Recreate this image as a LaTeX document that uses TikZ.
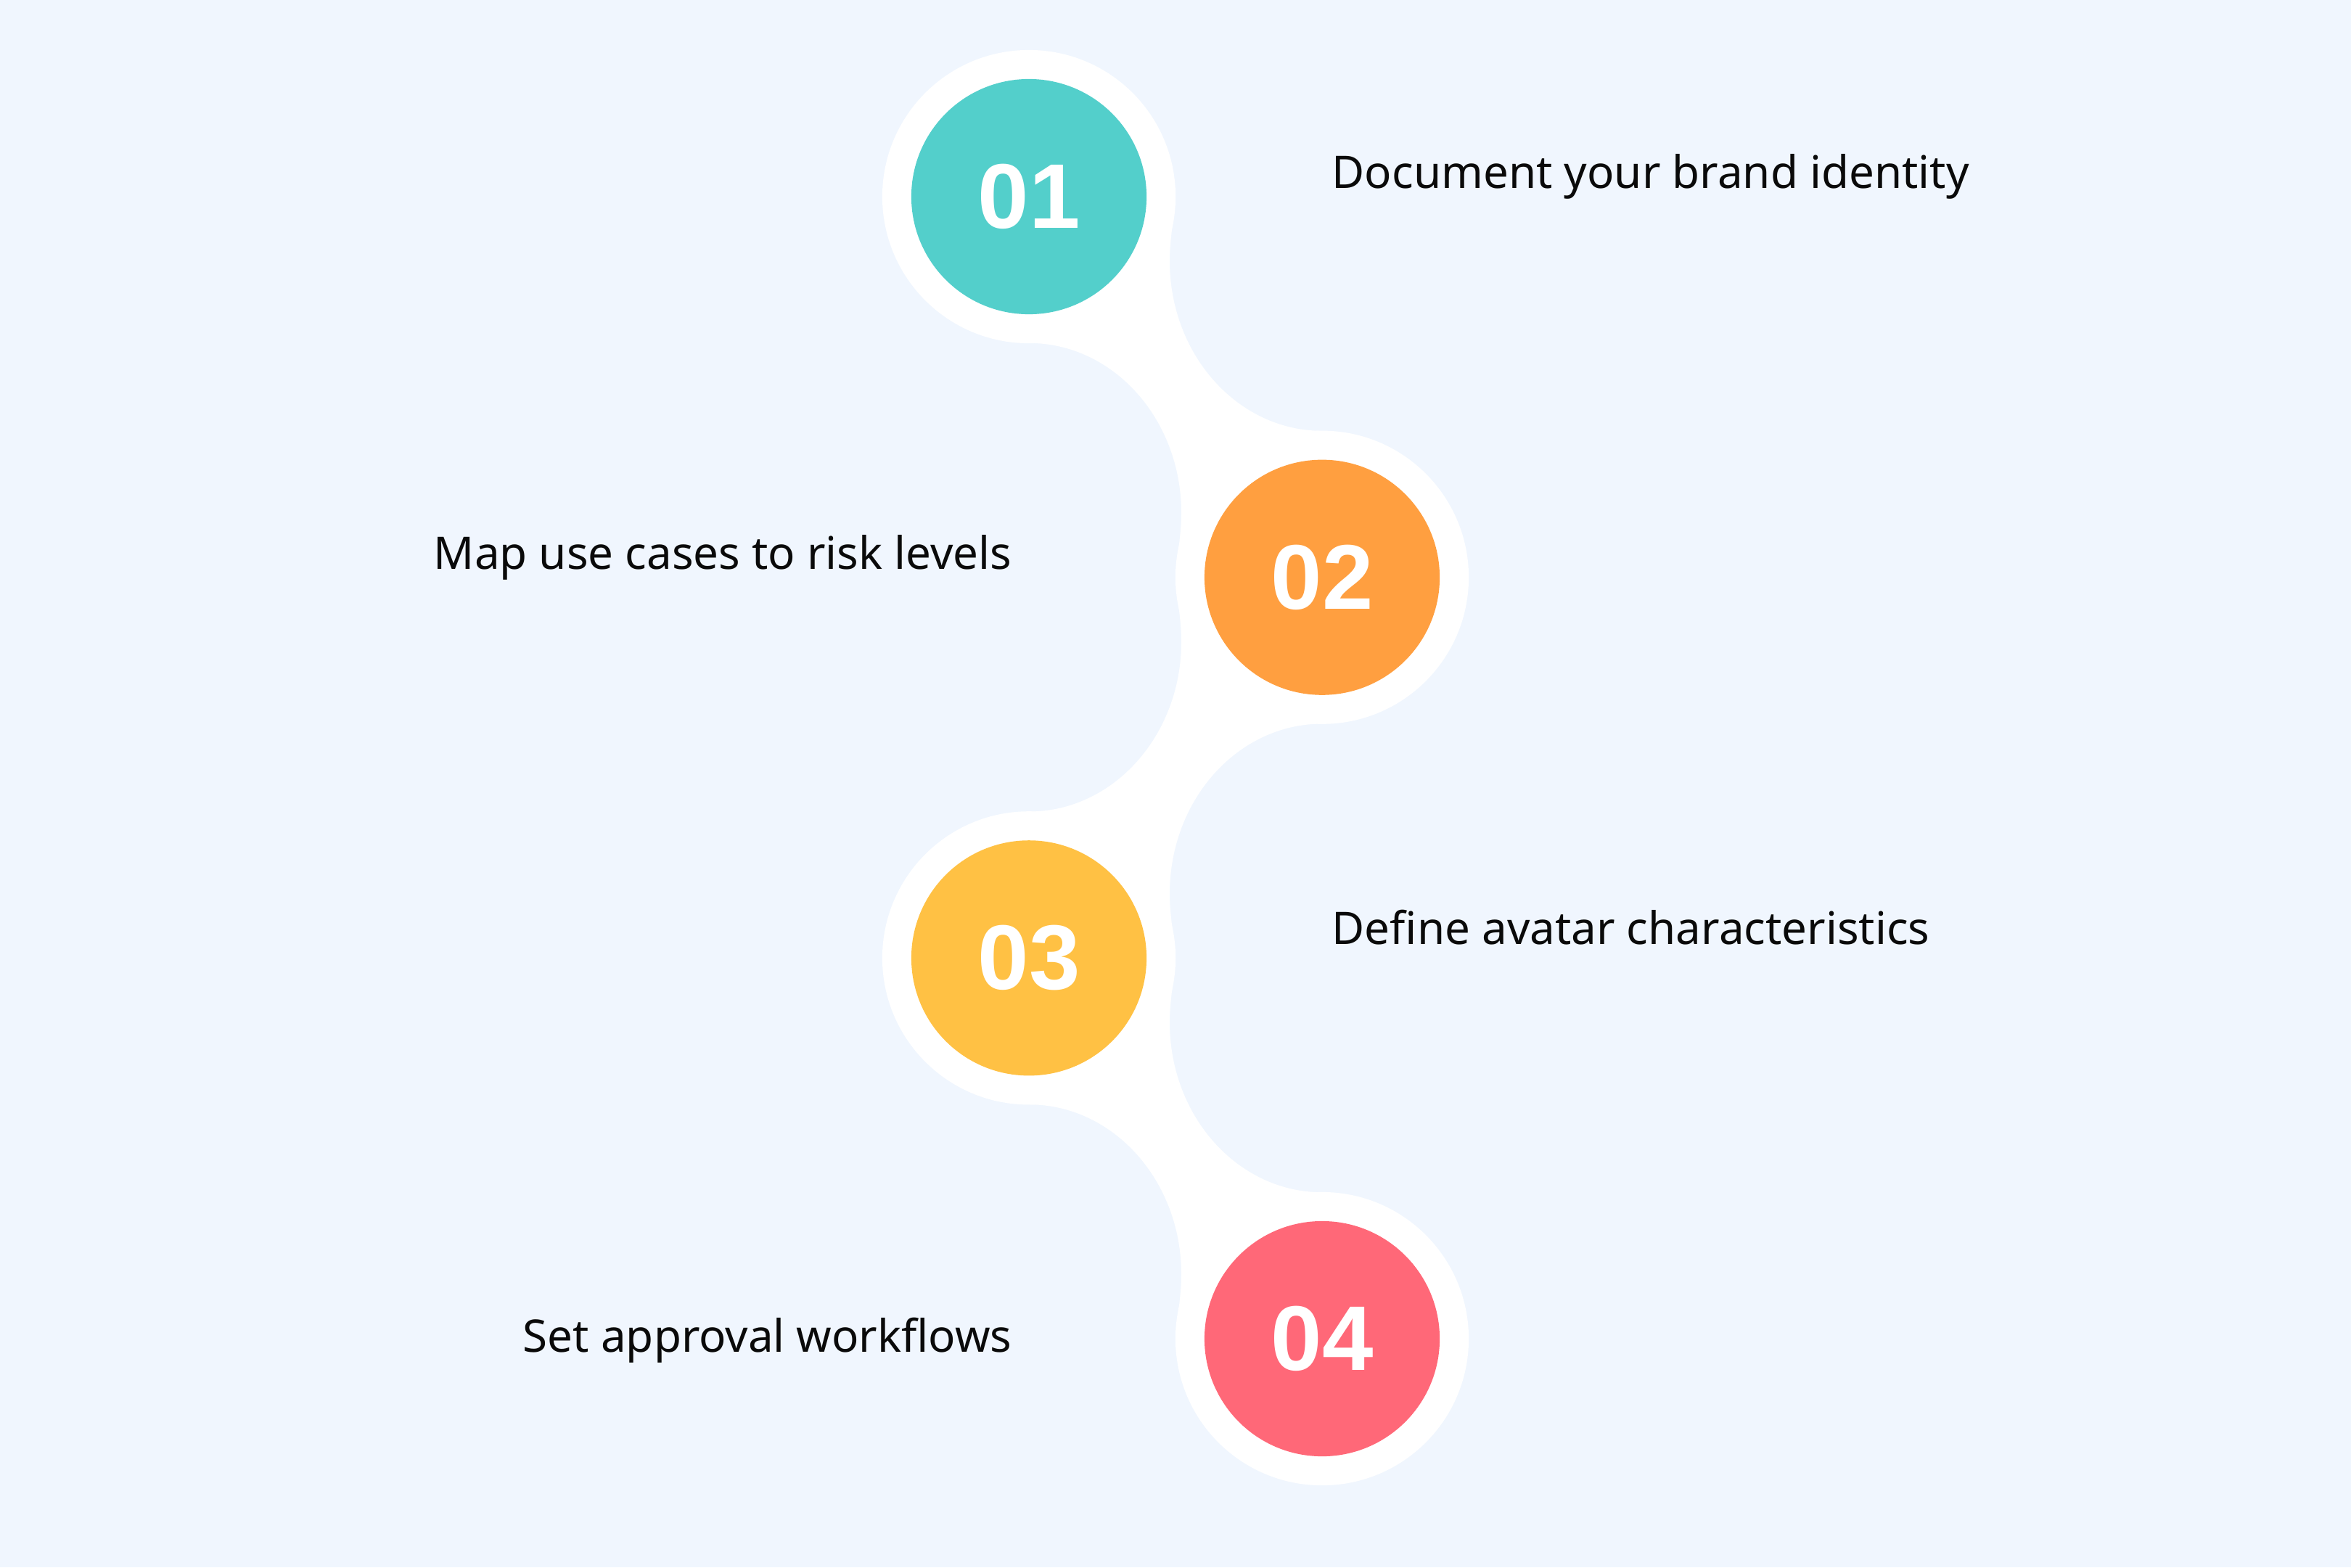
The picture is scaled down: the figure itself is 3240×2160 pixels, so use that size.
\documentclass[tikz,border=0pt]{standalone}
\usepackage{fontspec}
\setmainfont{Noto Sans}
\newfontfamily\numfont{Liberation Sans}
\definecolor{bg}{HTML}{F0F6FE}
\definecolor{cteal}{HTML}{53CFCB}
\definecolor{corange}{HTML}{FF9F40}
\definecolor{cyellow}{HTML}{FFC144}
\definecolor{cpink}{HTML}{FF6878}
\definecolor{ctext}{HTML}{0A0A0A}
\newcommand\necksh{(0,-262.5) .. controls (-4,-220) and (-8,-200) .. (-8,-173.5) .. controls (-8,-44) and (86,60.5) .. (202,60.5) -- (202,262.5) -- (0,262.5) .. controls (4,220) and (8,200) .. (8,173.5) .. controls (8,44) and (-86,-60.5) .. (-202,-60.5) -- (-202,-262.5) -- cycle}
\tikzset{
  ring/.style={circle, fill=white, minimum size=4.04cm, inner sep=0pt},
  numdisc/.style={circle, minimum size=3.24cm, inner sep=0pt, text=white,
    font=\numfont\fontsize{36pt}{40pt}\selectfont\bfseries},
  label/.style={inner sep=0pt, text=ctext, font=\fontsize{17.6pt}{21pt}\selectfont}
}
\begin{document}
\begin{tikzpicture}[x=0.01cm,y=-0.01cm]
\fill[bg] (0,0) rectangle (3240,2160);
\useasboundingbox (0,0) rectangle (3240,2160);
% necks
\begin{scope}[shift={(1620,533.3)}] \fill[white] \necksh; \end{scope}
\begin{scope}[shift={(1620,1058)},xscale=-1] \fill[white] \necksh; \end{scope}
\begin{scope}[shift={(1620,1582.7)}] \fill[white] \necksh; \end{scope}
% rings
\node[ring] (r1) at (1418,271) {};
\node[ring] (r2) at (1822,795.7) {};
\node[ring] (r3) at (1418,1320.3) {};
\node[ring] (r4) at (1822,1845) {};
% discs
\node[numdisc, fill=cteal] (n1) at (r1) {01};
\node[numdisc, fill=corange] (n2) at (r2) {02};
\node[numdisc, fill=cyellow] (n3) at (r3) {03};
\node[numdisc, fill=cpink] (n4) at (r4) {04};
% labels
\node[label, anchor=base west] (t1) at (1835,259) {Document your brand identity};
\node[label, anchor=base east] (t2) at (1395,784) {Map use cases to risk levels};
\node[label, anchor=base west] (t3) at (1835,1301) {Define avatar characteristics};
\node[label, anchor=base east] (t4) at (1395,1863) {Set approval workflows};
\end{tikzpicture}
\end{document}
